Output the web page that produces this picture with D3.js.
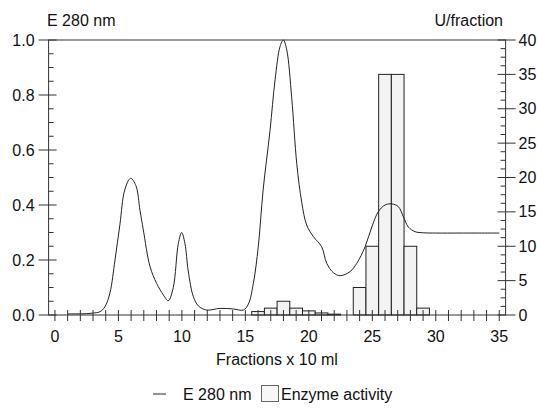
<!DOCTYPE html>
<html>
<head>
<meta charset="utf-8">
<script src="https://d3js.org/d3.v7.min.js"></script>
<style>
  body { margin: 0; background: #fff; }
  text { font-family: "Liberation Sans", Arial, sans-serif; font-size: 16px; fill: #111; }
</style>
</head>
<body>
<svg width="537" height="410"></svg>
<script>
// E 280 nm trace (fraction, absorbance)
const fractions = [1, 1.5, 2, 2.5, 3, 3.55, 3.94, 4.33, 4.73, 5.12, 5.5, 5.96, 6.38, 6.7, 6.96,
  7.49, 8.01, 8.54, 8.93, 9.32, 9.72, 9.98, 10.24, 10.5, 10.9, 11.3, 11.95, 13, 14.05, 14.84,
  15.24, 15.63, 16.02, 16.4, 16.94, 17.34, 17.73, 17.99, 18.26, 18.65, 19.05, 19.44, 19.83,
  20.36, 21.01, 21.41, 21.93, 22.46, 23.25, 23.78, 24.43, 24.96, 25.48, 26, 26.53, 27.05,
  27.45, 27.84, 28.37, 29.02, 30, 32, 35];
const e280 = [0.004, 0.004, 0.004, 0.005, 0.007, 0.012, 0.03, 0.08, 0.2, 0.33, 0.455, 0.497, 0.47, 0.38, 0.31,
  0.176, 0.115, 0.073, 0.052, 0.10, 0.26, 0.30, 0.26, 0.16, 0.067, 0.033, 0.018, 0.024, 0.022, 0.018,
  0.04, 0.115, 0.25, 0.455, 0.67, 0.855, 0.976, 1.0, 0.964, 0.79, 0.55, 0.41, 0.327,
  0.285, 0.248, 0.188, 0.154, 0.143, 0.158, 0.188, 0.248, 0.32, 0.376, 0.40, 0.404, 0.394,
  0.357, 0.32, 0.303, 0.299, 0.298, 0.298, 0.298];

// enzyme activity bars (U/fraction)
const activityFractions = [16, 17, 18, 19, 20, 21, 22, 24, 25, 26, 27, 28, 29];
const activity = [0.5, 1, 2, 1, 0.6, 0.3, 0.12, 4, 10, 35, 35, 10, 1];

const xTickLabels = [0, 5, 10, 15, 20, 25, 30, 35];
const leftTicks = [0, 0.2, 0.4, 0.6, 0.8, 1.0];
const rightTicks = [0, 5, 10, 15, 20, 25, 30, 35, 40];

const svg = d3.select("svg");
const mLeft = 48.6, mRight = 505.6, mTop = 40, mBottom = 315;
const ink = "#333";

const x = d3.scaleLinear().domain([-0.5, 35.5]).range([mLeft, mRight]);
const yL = d3.scaleLinear().domain([0, 1]).range([mBottom, mTop]);
const yR = d3.scaleLinear().domain([0, 40]).range([mBottom, mTop]);

// bars
svg.append("g").selectAll("rect")
  .data(activityFractions.map((f, i) => ({ f, v: activity[i] })))
  .enter().append("rect")
  .attr("x", d => x(d.f - 0.5))
  .attr("width", d => x(d.f + 0.5) - x(d.f - 0.5))
  .attr("y", d => yR(d.v))
  .attr("height", d => yR(0) - yR(d.v))
  .attr("fill", "#f3f3f3")
  .attr("stroke", "#222")
  .attr("stroke-width", 1);

// curve
const line = d3.line()
  .x(d => x(d[0]))
  .y(d => yL(d[1]))
  .curve(d3.curveCatmullRom.alpha(0.5));
svg.append("path")
  .datum(fractions.map((f, i) => [f, e280[i]]))
  .attr("d", line)
  .attr("fill", "none")
  .attr("stroke", "#222")
  .attr("stroke-width", 1);

// frame
svg.append("rect")
  .attr("x", mLeft).attr("y", mTop)
  .attr("width", mRight - mLeft).attr("height", mBottom - mTop)
  .attr("fill", "none").attr("stroke", ink).attr("stroke-width", 1);

const g = svg.append("g").attr("stroke", ink).attr("stroke-width", 1);

// x ticks at every fraction, crossing the axis
d3.range(0, 36).forEach(f => {
  g.append("line").attr("x1", x(f)).attr("x2", x(f)).attr("y1", mBottom - 5).attr("y2", mBottom + 6);
});
svg.append("g").selectAll("text").data(xTickLabels).enter().append("text")
  .attr("x", d => x(d)).attr("y", mBottom + 27)
  .attr("text-anchor", "middle").text(d => d);

// left axis ticks
d3.range(0, 1.0001, 0.05).forEach(v => {
  const major = Math.abs(v * 5 - Math.round(v * 5)) < 1e-6;
  g.append("line").attr("x1", major ? mLeft - 10 : mLeft).attr("x2", mLeft + (major ? 8 : 5))
    .attr("y1", yL(v)).attr("y2", yL(v));
});
svg.append("g").selectAll("text").data(leftTicks).enter().append("text")
  .attr("x", mLeft - 14).attr("y", d => yL(d)).attr("dy", "0.35em")
  .attr("text-anchor", "end").text(d => d.toFixed(1));

// right axis ticks
d3.range(0, 40.001, 1.25).forEach(v => {
  const major = Math.abs(v / 5 - Math.round(v / 5)) < 1e-6;
  g.append("line").attr("x1", mRight - (major ? 8 : 5)).attr("x2", major ? mRight + 10 : mRight)
    .attr("y1", yR(v)).attr("y2", yR(v));
});
svg.append("g").selectAll("text").data(rightTicks).enter().append("text")
  .attr("x", mRight + 13).attr("y", d => yR(d)).attr("dy", "0.35em")
  .text(d => d);

// titles
svg.append("text").attr("x", 47).attr("y", 26).text("E 280 nm");
svg.append("text").attr("x", 503).attr("y", 26).attr("text-anchor", "end").text("U/fraction");
svg.append("text").attr("x", 277).attr("y", 365).attr("text-anchor", "middle").text("Fractions x 10 ml");

// legend
const lg = svg.append("g");
lg.append("line").attr("x1", 153).attr("x2", 166).attr("y1", 394).attr("y2", 394)
  .attr("stroke", "#222").attr("stroke-width", 1);
lg.append("text").attr("x", 183).attr("y", 400).text("E 280 nm");
lg.append("rect").attr("x", 261.5).attr("y", 385.5).attr("width", 17).attr("height", 16)
  .attr("fill", "#f7f7f7").attr("stroke", "#666").attr("stroke-width", 1);
lg.append("text").attr("x", 281).attr("y", 400).text("Enzyme activity");
</script>
</body>
</html>
